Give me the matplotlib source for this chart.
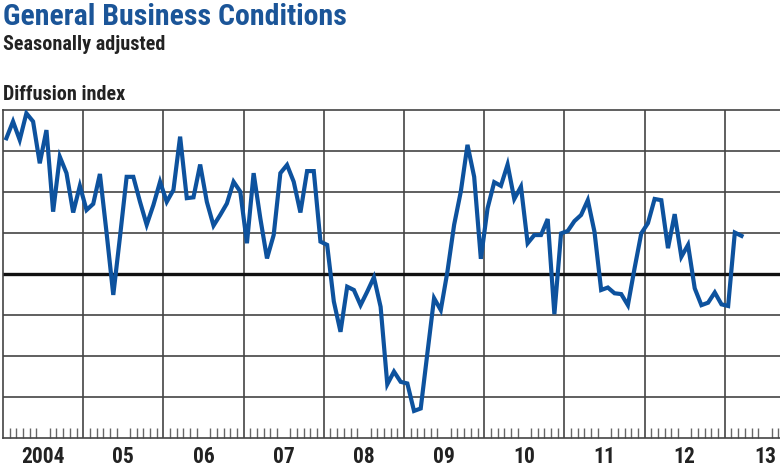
import matplotlib
matplotlib.use("Agg")
import matplotlib.pyplot as plt
from matplotlib import font_manager
import numpy as np

# Empire State survey, general business conditions, monthly Jan 2004 - Mar 2013
values = [
    33.1, 37.2, 32.7, 39.2, 37.2, 27.0, 35.1, 15.2, 28.6, 24.6, 15.0, 21.5,   # 2004
    15.6, 17.1, 24.4, 10.0, -5.1, 9.0, 23.7, 23.7, 17.6, 12.0, 16.8, 22.5,    # 2005
    17.6, 20.5, 33.5, 18.5, 18.7, 26.7, 17.6, 11.8, 14.4, 17.2, 22.5, 20.1,   # 2006
    7.5, 24.6, 13.6, 3.8, 9.5, 24.6, 26.6, 22.5, 15.0, 25.1, 25.1, 7.9,       # 2007
    7.1, -6.7, -14.1, -3.1, -3.9, -7.6, -4.3, -0.8, -8.0, -26.9, -23.8, -26.3,  # 2008
    -26.7, -33.4, -32.8, -19.3, -5.9, -8.8, 0.6, 12.0, 20.1, 31.5, 23.7, 3.7,   # 2009
    16.0, 22.4, 21.5, 26.7, 18.3, 21.3, 7.5, 9.5, 9.5, 13.4, -9.8, 9.9,       # 2010
    10.5, 12.9, 14.4, 18.0, 10.3, -3.9, -3.3, -4.7, -4.9, -7.6, 1.4, 9.9,     # 2011
    12.4, 18.3, 18.0, 6.3, 14.6, 4.2, 7.1, -3.5, -7.6, -7.0, -4.5, -7.4,      # 2012
    -7.8, 10.1, 9.3,                                                          # 2013
]
year_labels = ["2004", "05", "06", "07", "08", "09", "10", "11", "12", "13"]

title = "General Business Conditions"
subtitle = "Seasonally adjusted"
unit = "Diffusion index"

blue = "#0d529e"
grid_col = "#444444"

# the original uses a condensed face; take one if the box has it
installed = {f.name for f in font_manager.fontManager.ttflist}
narrow = [n for n in ["Liberation Sans Narrow", "DejaVu Sans Condensed", "Roboto Condensed"]
          if n in installed]
fam = narrow + ["Roboto", "DejaVu Sans"]

W, H = 780, 470
fig = plt.figure(figsize=(W / 100, H / 100), dpi=100)

# axes runs past the right edge, like the cropped original
left, right, top, bottom = 3, 805, 110, 438
ax = fig.add_axes([left / W, 1 - bottom / H, (right - left) / W, (bottom - top) / H])

months = np.arange(len(values)) + 0.5
n_months = 12 * len(year_labels)

ax.set_xlim(0, n_months)
ax.set_ylim(-40, 40)

for y in range(-30, 40, 10):
    if y == 0:
        continue
    ax.axhline(y, color=grid_col, lw=1.2, zorder=1)
for k in range(1, len(year_labels)):
    ax.axvline(12 * k, color=grid_col, lw=1.2, zorder=1)
ax.axhline(0, color="#111111", lw=2.4, zorder=2)

ax.plot(months, values, color=blue, lw=3.0, solid_joinstyle="miter", zorder=3)

for s in ax.spines.values():
    s.set_color(grid_col)
    s.set_linewidth(1.2)

ax.set_yticks([])
ax.set_xticks([12 * k + 6 for k in range(len(year_labels))])
ax.set_xticklabels(year_labels, family=fam, fontsize=15.5, fontweight="bold",
                   fontstretch="condensed", color="#222222")
ax.tick_params(axis="x", which="major", length=0, pad=6)
minor = [m for m in range(1, n_months) if m % 12 != 0]
ax.set_xticks(minor, minor=True)
ax.tick_params(axis="x", which="minor", direction="in", length=7, width=1.0, color="#666666")

fig.text(3 / W, 1 - 17 / H, title, ha="left", va="center", family=fam,
         fontsize=21.5, fontweight="bold", fontstretch="condensed", color="#1b5598")
fig.text(3 / W, 1 - 45 / H, subtitle, ha="left", va="center", family=fam,
         fontsize=14.5, fontweight="bold", fontstretch="condensed", color="#222222")
fig.text(3 / W, 1 - 94 / H, unit, ha="left", va="center", family=fam,
         fontsize=14.5, fontweight="bold", fontstretch="condensed", color="#222222")

fig.savefig("out.png", dpi=100)
